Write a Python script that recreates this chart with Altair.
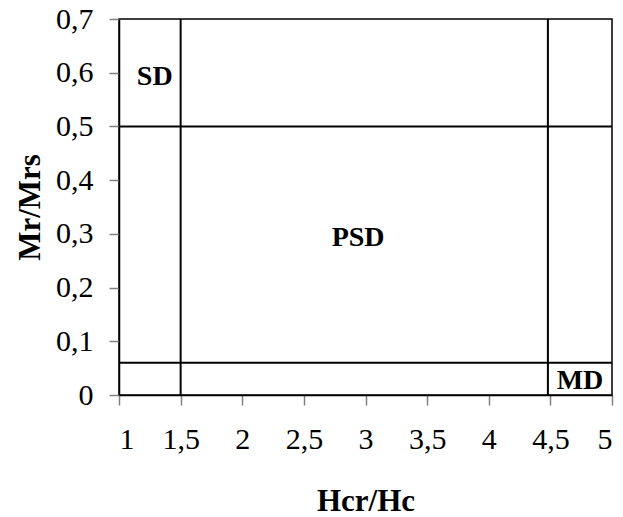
import altair as alt
import pandas as pd

# Domain-state boundaries on the Day plot
boundary_x = [1.5, 4.48]
boundary_y = [0.06, 0.5]

# Region labels and where they sit
region_names = ["SD", "PSD", "MD"]
region_x = [1.29, 2.94, 4.74]
region_y = [0.592, 0.292, 0.026]

x_ticks = [1, 1.5, 2, 2.5, 3, 3.5, 4, 4.5, 5]
y_ticks = [0, 0.1, 0.2, 0.3, 0.4, 0.5, 0.6, 0.7]

FONT = "Liberation Serif"
comma_label = "replace(format(datum.value, '~g'), '.', ',')"

x_scale = alt.Scale(domain=[1, 5], nice=False, zero=False)
y_scale = alt.Scale(domain=[0, 0.7], nice=False)

x_axis = alt.Axis(
    values=x_ticks, labelExpr=comma_label, grid=False,
    domainColor="black", domainWidth=1.5,
    tickColor="#808080", tickSize=10, tickWidth=1.5,
    labelFont=FONT, labelFontSize=30, labelColor="black", labelPadding=19,
    title="Hcr/Hc", titleFont=FONT, titleFontSize=31, titleFontWeight="bold",
    titleColor="black", titleBaseline="middle", titleY=106,
)
y_axis = alt.Axis(
    values=y_ticks, labelExpr=comma_label, grid=False,
    domainColor="black", domainWidth=1.5,
    tickColor="#808080", tickSize=10, tickWidth=1.5,
    labelFont=FONT, labelFontSize=30, labelColor="black", labelPadding=16,
    title="Mr/Mrs", titleFont=FONT, titleFontSize=31, titleFontWeight="bold",
    titleColor="black", titleAngle=-90, titleBaseline="middle",
    titleX=-89, titleY=188,
)

vdf = pd.DataFrame({"x": boundary_x, "y0": [0] * len(boundary_x), "y1": [0.7] * len(boundary_x)})
hdf = pd.DataFrame({"y": boundary_y, "x0": [1] * len(boundary_y), "x1": [5] * len(boundary_y)})
ldf = pd.DataFrame({"name": region_names, "x": region_x, "y": region_y})

vlines = alt.Chart(vdf).mark_rule(color="black", strokeWidth=2).encode(
    x=alt.X("x:Q", scale=x_scale, axis=x_axis),
    y=alt.Y("y0:Q", scale=y_scale, axis=y_axis),
    y2="y1:Q",
)
hlines = alt.Chart(hdf).mark_rule(color="black", strokeWidth=2).encode(
    x=alt.X("x0:Q", scale=x_scale, axis=x_axis),
    x2="x1:Q",
    y=alt.Y("y:Q", scale=y_scale, axis=y_axis),
)
labels = alt.Chart(ldf).mark_text(
    font=FONT, fontSize=28, fontWeight="bold", color="black", baseline="middle"
).encode(
    x=alt.X("x:Q", scale=x_scale, axis=x_axis),
    y=alt.Y("y:Q", scale=y_scale, axis=y_axis),
    text="name:N",
)

chart = (
    alt.layer(vlines, hlines, labels)
    .properties(
        width=493, height=376,
        autosize=alt.AutoSizeParams(type="none"),
        padding={"left": 119, "top": 19, "right": 11, "bottom": 122},
        background="white",
    )
    .configure_view(stroke="black", strokeWidth=1.5)
)

chart.save("out.html", embed_options={"renderer": "svg", "actions": False})
